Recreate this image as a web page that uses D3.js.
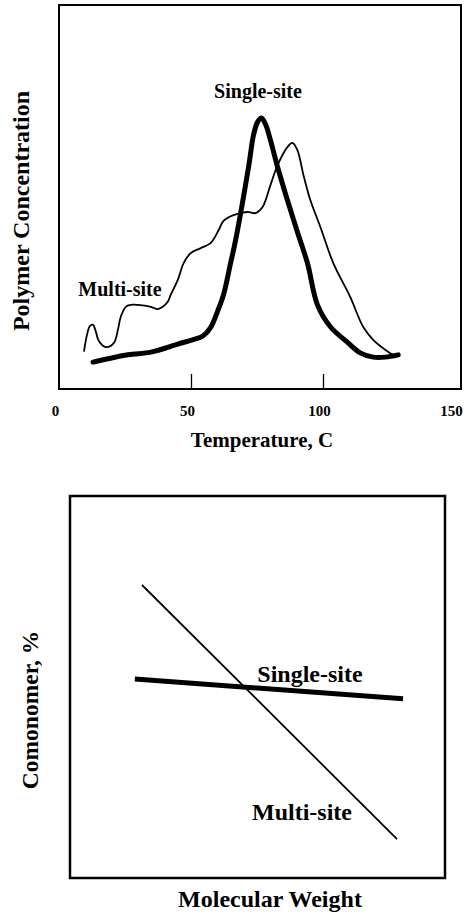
<!DOCTYPE html>
<html><head><meta charset="utf-8">
<script src="https://cdn.jsdelivr.net/npm/d3@7"></script>
<style>
html,body{margin:0;padding:0;background:#fff;}
svg{display:block;}
text{font-family:"Liberation Serif","Times New Roman",serif;font-weight:bold;fill:#000;}
</style></head>
<body>
<script>
// ---- Top chart data (Temperature, C vs Polymer Concentration, arbitrary units) ----
const tempTicks = [0, 50, 100, 150];
const singleTemp = [12.9,26.1,34.8,45.0,50.6,54.5,57.4,60.1,62.3,65.0,66.9,71.8,73.7,75.2,76.7,78.2,80.1,82.8,86.5,90.3,94.1,97.9,102.8,109.2,114.1,119.0,123.6,128.5];
const singleConc = [7.0,8.9,9.6,11.7,12.8,13.8,16.0,20.3,24.5,32.8,38.8,57.8,66.2,69.5,70.6,69.0,64.8,57.8,49.2,40.9,32.8,21.9,16.2,12.2,9.4,8.3,8.3,8.9];
const multiTemp = [9.5,10.6,11.7,12.9,14.0,15.1,17.8,20.8,22.3,23.4,25.3,27.2,29.9,34.8,37.4,39.3,41.2,42.3,45.0,47.2,49.9,53.7,57.4,60.5,62.3,66.1,71.4,74.4,77.1,80.1,82.8,86.5,88.4,90.3,92.6,95.2,99.0,103.9,110.3,115.2,119.0,121.7,126.6,128.5];
const multiConc = [9.9,14.1,16.4,16.7,14.8,12.5,10.9,12.0,15.4,18.8,21.4,21.9,21.9,21.4,20.8,21.4,22.7,24.5,28.4,32.8,35.4,36.7,38.0,41.4,43.8,45.3,46.1,45.8,47.4,53.1,58.3,63.0,64.1,62.2,55.7,49.2,42.2,32.8,24.0,16.2,12.8,11.2,8.9,8.6];

// ---- Bottom chart data (Molecular Weight vs Comonomer, arbitrary units) ----
const mwSingle = [1.73, 8.88];
const comSingle = [5.21, 4.69];
const mwMulti = [1.92, 8.72];
const comMulti = [7.67, 1.02];

const W = 468, H = 917;
const svg = d3.select("body").append("svg").attr("width", W).attr("height", H);

// ===== Top chart =====
const t = {l: 59, r: 461, t: 5, b: 389};
const x1 = d3.scaleLinear().domain([0, 150]).range([59, 455]);
const y1 = d3.scaleLinear().domain([0, 100]).range([t.b, t.t]);

svg.append("rect").attr("x", t.l).attr("y", t.t).attr("width", t.r - t.l).attr("height", t.b - t.t)
  .attr("fill", "none").attr("stroke", "#000").attr("stroke-width", 2);

const ax1 = svg.append("g").attr("transform", `translate(0,${t.b})`)
  .call(d3.axisBottom(x1).tickValues(tempTicks).tickSizeInner(-15).tickSizeOuter(0).tickPadding(16).tickFormat(d3.format("d")));
ax1.attr("font-family", null).attr("font-size", null);
ax1.select(".domain").remove();
ax1.selectAll(".tick line").attr("stroke", "#000").attr("stroke-width", 1.3)
  .attr("display", d => (d === 0 || d === 150) ? "none" : null);
ax1.selectAll(".tick text").style("font-size", "15px").attr("dx", -4);

const line1 = d3.line().x(d => x1(d[0])).y(d => y1(d[1])).curve(d3.curveCatmullRom.alpha(0.5));
svg.append("path").datum(multiTemp.map((v, i) => [v, multiConc[i]]))
  .attr("d", line1).attr("fill", "none").attr("stroke", "#000").attr("stroke-width", 1.8)
  .attr("stroke-linecap", "round").attr("stroke-linejoin", "round");
svg.append("path").datum(singleTemp.map((v, i) => [v, singleConc[i]]))
  .attr("d", line1).attr("fill", "none").attr("stroke", "#000").attr("stroke-width", 5)
  .attr("stroke-linecap", "round").attr("stroke-linejoin", "round");

svg.append("text").attr("x", 258).attr("y", 98).attr("text-anchor", "middle").style("font-size", "20px").text("Single-site");
svg.append("text").attr("x", 120).attr("y", 296).attr("text-anchor", "middle").style("font-size", "20px").text("Multi-site");
svg.append("text").attr("x", 262).attr("y", 447).attr("text-anchor", "middle").style("font-size", "21px").text("Temperature, C");
svg.append("text").attr("transform", "translate(29,211) rotate(-90)").attr("text-anchor", "middle").style("font-size", "24px").text("Polymer Concentration");

// ===== Bottom chart =====
const b = {l: 70, r: 445, t: 496, b: 878};
const x2 = d3.scaleLinear().domain([0, 10]).range([b.l, b.r]);
const y2 = d3.scaleLinear().domain([0, 10]).range([b.b, b.t]);

svg.append("rect").attr("x", b.l).attr("y", b.t).attr("width", b.r - b.l).attr("height", b.b - b.t)
  .attr("fill", "none").attr("stroke", "#000").attr("stroke-width", 2.5);

const line2 = d3.line().x(d => x2(d[0])).y(d => y2(d[1]));
svg.append("path").datum(mwMulti.map((v, i) => [v, comMulti[i]]))
  .attr("d", line2).attr("fill", "none").attr("stroke", "#000").attr("stroke-width", 1.8);
svg.append("path").datum(mwSingle.map((v, i) => [v, comSingle[i]]))
  .attr("d", line2).attr("fill", "none").attr("stroke", "#000").attr("stroke-width", 5);

svg.append("text").attr("x", 310).attr("y", 682).attr("text-anchor", "middle").style("font-size", "24px").text("Single-site");
svg.append("text").attr("x", 302).attr("y", 820).attr("text-anchor", "middle").style("font-size", "24px").text("Multi-site");
svg.append("text").attr("x", 270).attr("y", 907).attr("text-anchor", "middle").style("font-size", "24px").text("Molecular Weight");
svg.append("text").attr("transform", "translate(38,710) rotate(-90)").attr("text-anchor", "middle").style("font-size", "23.5px").text("Comonomer, %");
</script>
</body></html>
